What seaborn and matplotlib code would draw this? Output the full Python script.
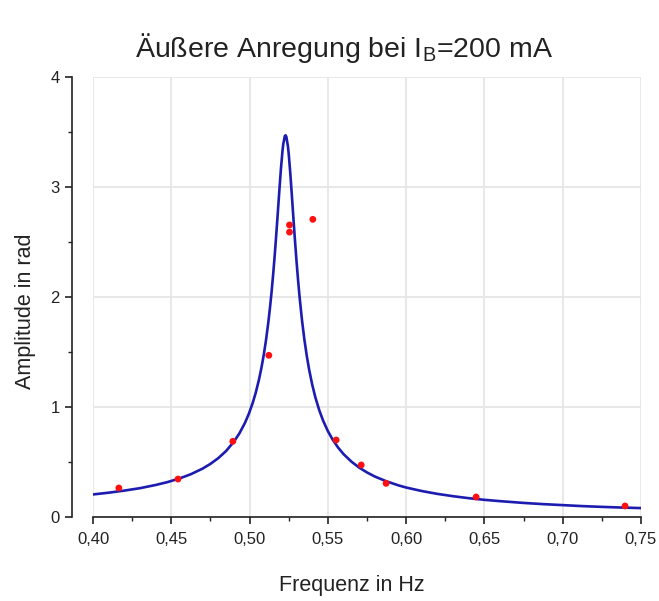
import matplotlib
matplotlib.use("Agg")
import matplotlib.pyplot as plt
import seaborn as sns
import pandas as pd
from matplotlib.ticker import MultipleLocator, FuncFormatter

# Measured data (red points)
freq_meas = [0.4165, 0.4543, 0.4893, 0.5123, 0.5255, 0.5255, 0.5404, 0.5553, 0.5713, 0.5872, 0.6447, 0.7398]
amp_meas = [0.264, 0.345, 0.688, 1.47, 2.655, 2.59, 2.706, 0.70, 0.473, 0.306, 0.182, 0.10]

# Fit curve (blue line)
freq_fit = [0.400, 0.410, 0.420, 0.430, 0.440, 0.4475, 0.455, 0.4625, 0.470, 0.475,
            0.480, 0.485, 0.490, 0.4935, 0.497, 0.4995, 0.502, 0.504, 0.506, 0.5075,
            0.509, 0.5105, 0.512, 0.513, 0.514, 0.515, 0.516, 0.517, 0.518, 0.519,
            0.520, 0.521, 0.5215, 0.5225, 0.523, 0.5235, 0.5245, 0.525, 0.526, 0.527,
            0.528, 0.529, 0.530, 0.531, 0.532, 0.5335, 0.535, 0.5365, 0.538, 0.540,
            0.542, 0.5445, 0.547, 0.550, 0.553, 0.5565, 0.560, 0.565, 0.570, 0.575,
            0.580, 0.5875, 0.595, 0.600, 0.610, 0.620, 0.630, 0.640, 0.650, 0.660,
            0.675, 0.6875, 0.700, 0.7125, 0.725, 0.7375, 0.750]
amp_fit = [0.205, 0.221, 0.240, 0.262, 0.291, 0.317, 0.349, 0.389, 0.440, 0.483,
           0.535, 0.600, 0.685, 0.760, 0.854, 0.937, 1.037, 1.133, 1.249, 1.351,
           1.469, 1.608, 1.772, 1.898, 2.038, 2.195, 2.368, 2.558, 2.759, 2.964,
           3.160, 3.324, 3.388, 3.463, 3.470, 3.456, 3.369, 3.301, 3.127, 2.926,
           2.716, 2.513, 2.323, 2.149, 1.992, 1.787, 1.614, 1.468, 1.343, 1.204,
           1.089, 0.971, 0.875, 0.781, 0.705, 0.632, 0.572, 0.504, 0.449, 0.405,
           0.368, 0.324, 0.288, 0.268, 0.236, 0.210, 0.189, 0.171, 0.156, 0.144,
           0.128, 0.117, 0.108, 0.099, 0.092, 0.086, 0.081]

x_ticks = [0.40, 0.45, 0.50, 0.55, 0.60, 0.65, 0.70, 0.75]
y_ticks = [0, 1, 2, 3, 4]

title = "Äußere Anregung bei I$_\\mathregular{B}$=200 mA"
xlabel = "Frequenz in Hz"
ylabel = "Amplitude in rad"

sns.set_theme(style="white")
plt.rcParams['font.family'] = ['Liberation Sans', 'DejaVu Sans']
plt.rcParams['mathtext.fontset'] = 'custom'
plt.rcParams['mathtext.rm'] = 'Liberation Sans'

df_meas = pd.DataFrame({"f": freq_meas, "A": amp_meas})
df_fit = pd.DataFrame({"f": freq_fit, "A": amp_fit})

fig = plt.figure(figsize=(6.59, 6.01), dpi=100)
ax = fig.add_axes([93 / 659, 1 - 517 / 601, 548 / 659, 440 / 601])

ax.grid(True, color="#e6e6e6", linewidth=1.3)
ax.set_axisbelow(True)

sns.lineplot(data=df_fit, x="f", y="A", ax=ax, color="#1c1cb0", linewidth=1.9, sort=False, zorder=3)
sns.scatterplot(data=df_meas, x="f", y="A", ax=ax, color="#ff1010", s=24, edgecolor="none", zorder=4)

ax.set_xlim(0.40, 0.75)
ax.set_ylim(0, 4)
ax.set_xticks(x_ticks)
ax.set_yticks(y_ticks)
ax.xaxis.set_minor_locator(MultipleLocator(0.025))
ax.yaxis.set_minor_locator(MultipleLocator(0.5))
ax.xaxis.set_major_formatter(FuncFormatter(lambda v, p: f"{v:.2f}".replace('.', ',')))
ax.yaxis.set_major_formatter(FuncFormatter(lambda v, p: f"{v:.0f}"))

for s in ["top", "right"]:
    ax.spines[s].set_visible(False)
for s in ["left", "bottom"]:
    ax.spines[s].set_color("#222222")
    ax.spines[s].set_linewidth(1.2)
ax.spines["left"].set_position(("outward", 15))

ax.tick_params(axis="both", which="major", direction="out", length=5, width=1.2,
               color="#222222", labelsize=12, labelcolor="#222222", bottom=True, left=True)
ax.tick_params(axis="both", which="minor", direction="out", length=3, width=1.0,
               color="#222222", bottom=True, left=True)
ax.tick_params(axis="x", which="major", pad=6)
ax.tick_params(axis="y", which="major", pad=4)

ax.set_xlabel(xlabel, fontsize=15.5, color="#222222", va="center", ha="center")
ax.set_ylabel(ylabel, fontsize=15.5, color="#222222", va="center", ha="center")
ax.xaxis.set_label_coords((352 - 93) / 548, (517 - 585) / 440)
ax.yaxis.set_label_coords((26 - 93) / 548, (517 - 311) / 440)

fig.text(344 / 659, 1 - 48 / 601, title, fontsize=20.5, ha="center", va="center", color="#222222")

fig.savefig("out.png", dpi=100)
